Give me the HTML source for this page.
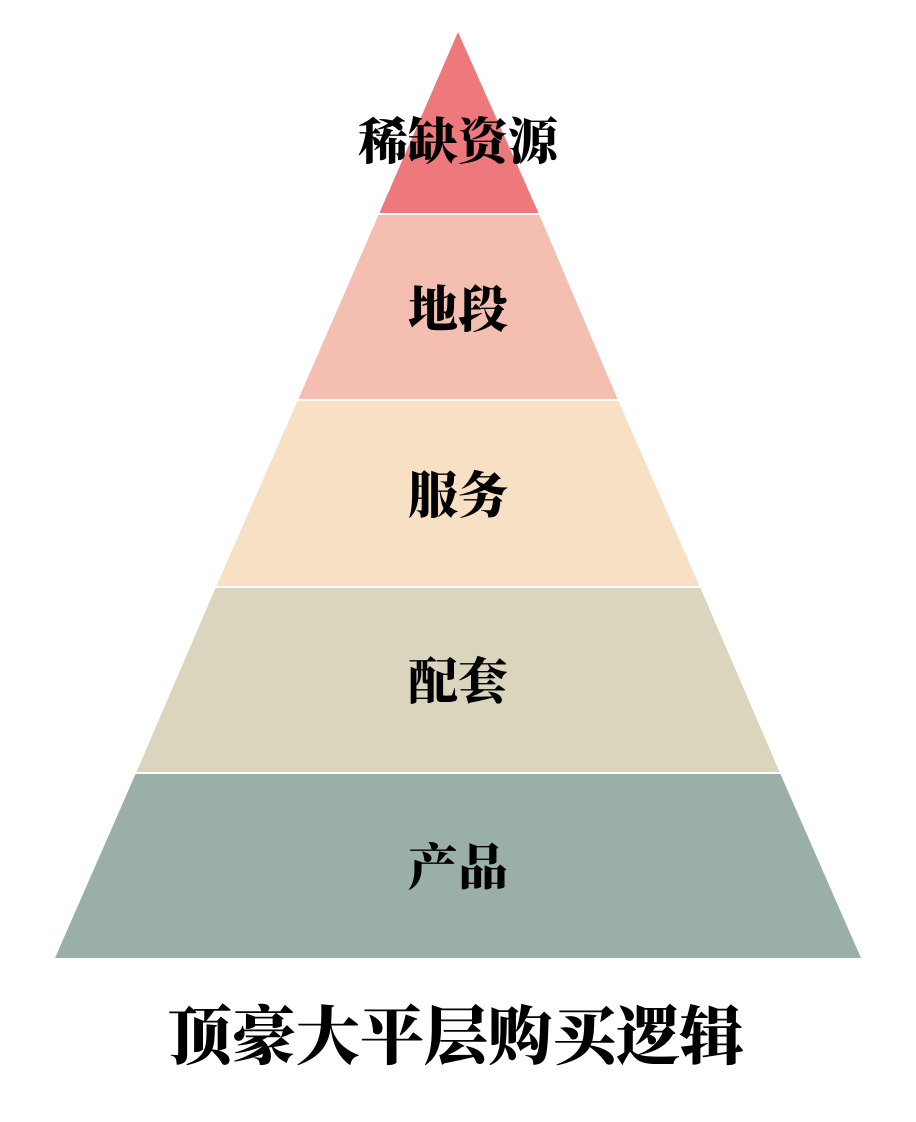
<!DOCTYPE html>
<html><head><meta charset="utf-8"><style>
html,body{margin:0;padding:0;background:#fff;}
svg{display:block;}
text{font-family:"Noto Serif CJK SC","Liberation Serif",serif;font-weight:900;fill:#000;text-anchor:middle;dominant-baseline:central;}
</style></head><body>
<svg width="916" height="1122" viewBox="0 0 916 1122" xmlns="http://www.w3.org/2000/svg">
<polygon points="458,32 539,214 379,214" fill="#ED797D"/>
<polygon points="379,214 539,214 618,400 298,400" fill="#F4BFB0"/>
<polygon points="298,400 618,400 700,587 216,587" fill="#F8E0C4"/>
<polygon points="216,587 700,587 780,773 136,773" fill="#DCD5BD"/>
<polygon points="136,773 780,773 861,958 55,958" fill="#9AAFA8"/>
<g stroke="#fff" stroke-width="2">
<line x1="370" y1="214" x2="548" y2="214"/>
<line x1="290" y1="400" x2="626" y2="400"/>
<line x1="208" y1="587" x2="708" y2="587"/>
<line x1="128" y1="773" x2="788" y2="773"/>
</g>
<text x="458" y="138" font-size="50">稀缺资源</text>
<text x="458" y="306" font-size="50">地段</text>
<text x="458" y="492" font-size="50">服务</text>
<text x="458" y="678" font-size="50">配套</text>
<text x="458" y="864" font-size="50">产品</text>
<text x="456" y="1032" font-size="64">顶豪大平层购买逻辑</text>
</svg>
</body></html>
